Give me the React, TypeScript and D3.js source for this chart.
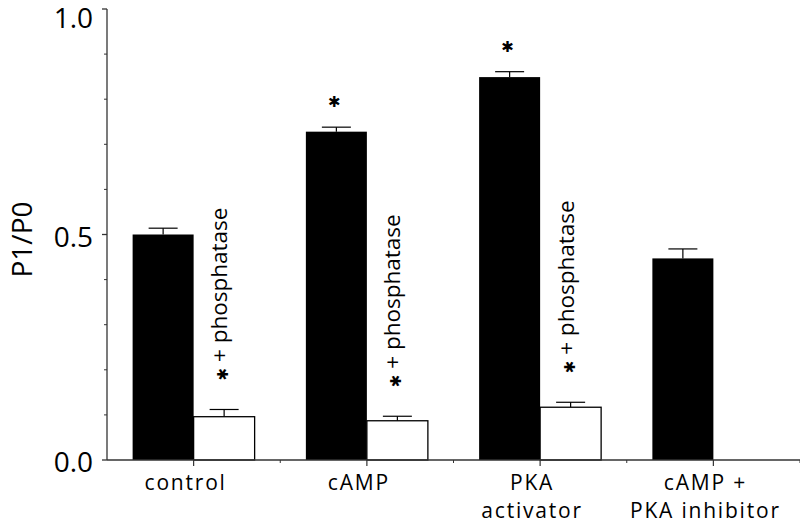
import React from "react";
import * as d3 from "d3";

const categories = ["control", "cAMP", "PKA activator", "cAMP + PKA inhibitor"];
const categoryLines = [["control"], ["cAMP"], ["PKA", "activator"], ["cAMP +", "PKA inhibitor"]];
const series = ["treated", "phosphatase"];
const treatedMean = [0.5, 0.728, 0.849, 0.447];
const treatedErr = [0.014, 0.01, 0.012, 0.021];
const treatedSig = [false, true, true, false];
const phosMean = [0.096, 0.087, 0.117, null];
const phosErr = [0.016, 0.01, 0.011, null];
const phosSig = [true, true, true, false];
const yTicksMajor = [0, 0.5, 1.0];
const yTicksMinor = [0.1, 0.2, 0.3, 0.4, 0.6, 0.7, 0.8, 0.9];

const W = 800;
const H = 525;
const FONT = "'Open Sans', 'Noto Sans', sans-serif";

export default function App() {
  const y = d3.scaleLinear().domain([0, 1]).range([460, 9]);
  const x = d3.scaleBand().domain(categories).range([107, 800]).padding(0);
  const bw = x.bandwidth();
  const xs = d3.scaleBand().domain(series).range([0, bw]).paddingInner(0).paddingOuter(0.42);
  const sw = xs.bandwidth();
  const cap = 14.5;

  const bars: any[] = [];
  categories.forEach((c, i) => {
    bars.push({ c, i, s: "treated", v: treatedMean[i], e: treatedErr[i], sig: treatedSig[i] });
    if (phosMean[i] != null) bars.push({ c, i, s: "phosphatase", v: phosMean[i], e: phosErr[i], sig: phosSig[i] });
  });

  return (
    <svg width={W} height={H} style={{ display: "block", position: "absolute", left: 0, top: 0 }} fontFamily={FONT}>
      <rect x={0} y={0} width={W} height={H} fill="#fff" />
      {bars.map((b, k) => {
        const x0 = (x(b.c) as number) + (xs(b.s) as number);
        const cx = x0 + sw / 2;
        const top = y(b.v);
        const et = y(b.v + b.e);
        const black = b.s === "treated";
        return (
          <g key={k}>
            <line x1={cx} x2={cx} y1={top} y2={et} stroke="#000" strokeWidth={1.2} />
            <line x1={cx - cap} x2={cx + cap} y1={et} y2={et} stroke="#000" strokeWidth={1.2} />
            <rect x={x0} y={top} width={sw} height={y(0) - top} fill={black ? "#000" : "#fff"} stroke="#000" strokeWidth={black ? 0 : 1.3} />
            {black && b.sig && (
              <text x={cx - 2} y={et - 25} textAnchor="middle" dominantBaseline="central" fontSize={15} fontFamily="'DejaVu Sans'">✱</text>
            )}
            {!black && b.sig && (
              <text transform={`translate(${cx + 3},${et - 29}) rotate(-90)`} fontSize={22.5} fill="#000">
                <tspan fontFamily="'DejaVu Sans'" fontSize={15} dy={1}>✱</tspan>
                <tspan dy={-1}> + phosphatase</tspan>
              </text>
            )}
          </g>
        );
      })}
      <line x1={107} x2={107} y1={y(1)} y2={y(0)} stroke="#333" strokeWidth={1.3} />
      {yTicksMajor.map((t) => (
        <g key={t}>
          <line x1={102} x2={107} y1={y(t)} y2={y(t)} stroke="#333" strokeWidth={1.3} />
          <text x={93} y={Math.max(y(t) + 1, 17)} textAnchor="end" dominantBaseline="central" fontSize={28}>{t.toFixed(1)}</text>
        </g>
      ))}
      {yTicksMinor.map((t) => (
        <line key={t} x1={104} x2={107} y1={y(t)} y2={y(t)} stroke="#333" strokeWidth={1} />
      ))}
      <text transform={`translate(32,${y(0.5) + 5}) rotate(-90)`} textAnchor="middle" fontSize={28}>P1/P0</text>
      <line x1={107} x2={800} y1={y(0)} y2={y(0)} stroke="#333" strokeWidth={1.3} />
      {categories.map((c, i) => {
        const cx = (x(c) as number) + bw / 2;
        const right = (x(c) as number) + bw;
        return (
          <g key={c}>
            <line x1={cx} x2={cx} y1={y(0)} y2={y(0) + 6} stroke="#333" strokeWidth={1.2} />
            <line x1={right} x2={right} y1={y(0)} y2={y(0) + 3} stroke="#333" strokeWidth={1} />
            {categoryLines[i].map((ln, j) => (
              <text key={j} x={cx - 8} y={490 + j * 28} textAnchor="middle" fontSize={21} letterSpacing={1.8}>{ln}</text>
            ))}
          </g>
        );
      })}
    </svg>
  );
}
